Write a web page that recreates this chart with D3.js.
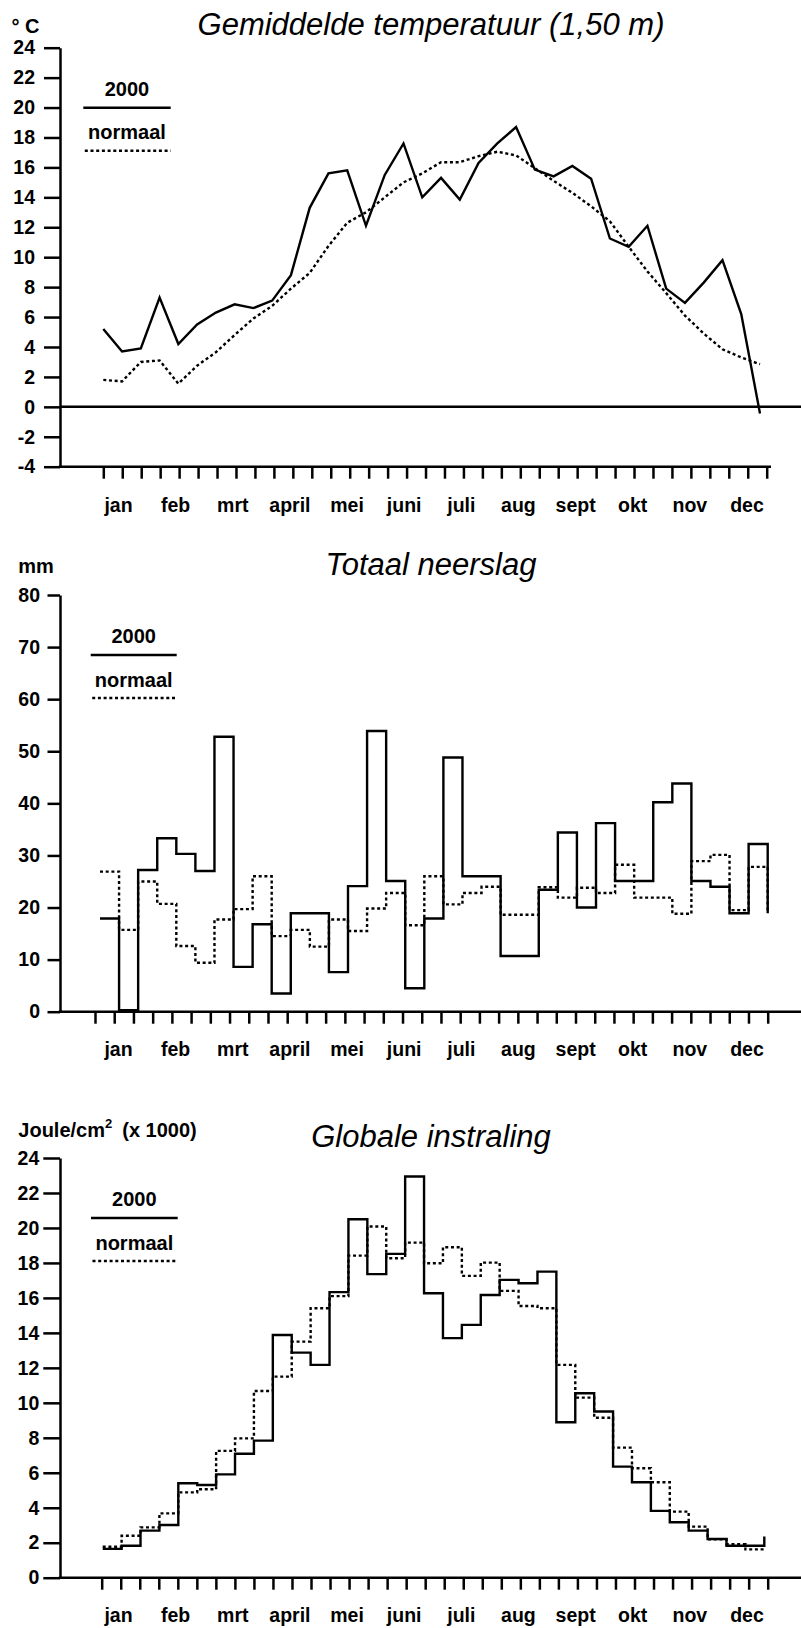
<!DOCTYPE html>
<html>
<head>
<meta charset="utf-8">
<script src="https://cdn.jsdelivr.net/npm/d3@7"></script>
<style>
  body { margin: 0; background: #fff; }
  svg { display: block; font-family: "Liberation Sans", Arial, sans-serif; }
</style>
</head>
<body>
<script>
// month labels (x axis)
const months = ["jan", "feb", "mrt", "april", "mei", "juni", "juli", "aug", "sept", "okt", "nov", "dec"];

// temperature per decade (°C)
const temp2000 = [5.2, 3.7, 3.9, 7.3, 4.2, 5.5, 6.3, 6.85, 6.6, 7.1, 8.8, 13.3, 15.6, 15.8, 12.1, 15.5, 17.6, 14.0,
  15.3, 13.85, 16.3, 17.6, 18.7, 15.85, 15.4, 16.1, 15.25, 11.25, 10.7, 12.1, 7.9, 6.95, 8.3, 9.8, 6.2, -0.45];
const tempNormal = [1.8, 1.7, 3.0, 3.1, 1.55, 2.75, 3.65, 4.8, 5.9, 6.75, 7.9, 8.95, 10.75, 12.3, 13.0, 14.0, 15.0, 15.6,
  16.35, 16.35, 16.75, 17.05, 16.8, 15.95, 15.1, 14.3, 13.4, 12.4, 10.7, 9.05, 7.6, 6.1, 4.9, 3.85, 3.3, 2.85];

// precipitation per decade (mm)
const rain2000 = [17.9, 0.3, 27.2, 33.3, 30.3, 27.0, 52.8, 8.6, 16.8, 3.5, 18.9, 18.9, 7.6, 24.1, 53.9, 25.1, 4.5, 17.9,
  48.8, 26.0, 26.0, 10.7, 10.7, 23.4, 34.4, 20.0, 36.2, 25.1, 25.1, 40.2, 43.8, 25.1, 24.0, 18.9, 32.2, 18.9];
const rainNormal = [26.9, 15.7, 25.0, 20.7, 12.6, 9.4, 17.7, 19.7, 26.0, 14.5, 15.7, 12.5, 17.7, 15.5, 19.8, 22.8, 16.6, 26.0,
  20.6, 22.8, 24.0, 18.6, 18.6, 23.9, 21.9, 23.8, 22.8, 28.2, 21.9, 21.9, 18.8, 28.9, 30.1, 19.5, 27.8, 19.0];

// global radiation per decade (J/cm2 x 1000)
const rad2000 = [1.65, 1.83, 2.69, 3.01, 5.4, 5.3, 5.91, 7.09, 7.84, 13.88, 12.87, 12.17, 16.33, 20.5, 17.36, 18.52, 22.94, 16.27,
  13.7, 14.46, 16.17, 17.03, 16.84, 17.5, 8.89, 10.55, 9.5, 6.35, 5.46, 3.82, 3.17, 2.69, 2.21, 1.83, 1.83, 2.35];
const radNormal = [1.77, 2.4, 2.88, 3.68, 4.88, 5.06, 7.25, 7.97, 10.68, 11.5, 13.5, 15.41, 16.1, 18.42, 20.08, 18.27, 19.16, 17.98,
  18.9, 17.26, 18.02, 16.4, 15.54, 15.41, 12.17, 10.3, 9.15, 7.44, 6.26, 5.46, 3.78, 2.92, 2.2, 1.91, 1.62, 1.62];

// y tick values
const tempTicks = d3.range(-4, 25, 2);
const rainTicks = d3.range(0, 81, 10);
const radTicks = d3.range(0, 25, 2);

const W = 801, H = 1628;
const axisX = 60;

const svg = d3.select("body").append("svg")
  .attr("width", W)
  .attr("height", H);

function drawPanel(o) {
  const g = svg.append("g");
  const y = d3.scaleLinear().domain(o.yDomain).range(o.yRange);
  const xp = d3.scaleLinear().domain([0, o.data2000.length - 1]).range(o.ptsRange);
  const xt = d3.scaleLinear().domain([0, o.data2000.length - 1]).range(o.tickRange);
  const xm = d3.scalePoint().domain(months).range([118.5, 747]);
  const base = y(o.yDomain[0]);
  const top = y(o.yDomain[1]);

  // y axis (plain hyphen for negatives, like the original)
  const ya = g.append("g")
    .attr("transform", `translate(${axisX},0)`)
    .call(d3.axisLeft(y).tickValues(o.yTicks).tickFormat(d => String(d))
      .tickSize(o.tickLen).tickPadding(o.pad).tickSizeOuter(0));
  ya.select(".domain").attr("stroke-width", 2.5);
  ya.selectAll(".tick line").attr("stroke-width", 2.5);
  ya.selectAll(".tick text")
    .attr("font-size", 19.5)
    .attr("font-weight", "bold")
    .attr("font-family", "Liberation Sans, Arial, sans-serif");

  // x axis line
  g.append("line")
    .attr("x1", axisX - 1.25).attr("x2", o.xEnd)
    .attr("y1", base).attr("y2", base)
    .attr("stroke", "#000").attr("stroke-width", 2.5);

  // decade ticks below the axis
  const xa = g.append("g")
    .attr("transform", `translate(0,${base})`)
    .call(d3.axisBottom(xt).tickValues(d3.range(o.data2000.length)).tickSize(12).tickFormat(""));
  xa.select(".domain").remove();
  xa.selectAll(".tick line").attr("stroke-width", 2.5);

  // month labels
  g.selectAll(".month")
    .data(months)
    .enter().append("text")
    .attr("class", "month")
    .attr("x", d => xm(d))
    .attr("y", o.monthY)
    .attr("text-anchor", "middle")
    .attr("font-size", 19.5)
    .attr("font-weight", "bold")
    .text(d => d);

  // zero line
  if (o.zeroLine) {
    g.append("line")
      .attr("x1", axisX).attr("x2", W)
      .attr("y1", y(0)).attr("y2", y(0))
      .attr("stroke", "#000").attr("stroke-width", 2.5);
  }

  const line = d3.line()
    .x((d, i) => xp(i))
    .y(d => y(d))
    .curve(o.curve);

  g.append("path")
    .datum(o.dataNormal)
    .attr("d", line)
    .attr("fill", "none")
    .attr("stroke", "#000")
    .attr("stroke-width", 2.4)
    .attr("stroke-dasharray", "3,2.7");

  g.append("path")
    .datum(o.data2000)
    .attr("d", line)
    .attr("fill", "none")
    .attr("stroke", "#000")
    .attr("stroke-width", 2.4)
    .attr("stroke-linejoin", "miter");

  // legend
  const lg = g.append("g");
  const lc = (o.legendX[0] + o.legendX[1]) / 2;
  lg.append("text")
    .attr("x", lc).attr("y", top + 48)
    .attr("text-anchor", "middle")
    .attr("font-size", 20).attr("font-weight", "bold")
    .text("2000");
  lg.append("line")
    .attr("x1", o.legendX[0]).attr("x2", o.legendX[1])
    .attr("y1", top + 60).attr("y2", top + 60)
    .attr("stroke", "#000").attr("stroke-width", 2.4);
  lg.append("text")
    .attr("x", lc).attr("y", top + 91.5)
    .attr("text-anchor", "middle")
    .attr("font-size", 20).attr("font-weight", "bold")
    .text("normaal");
  lg.append("line")
    .attr("x1", o.legendX[0] + 1.5).attr("x2", o.legendX[1])
    .attr("y1", top + 103).attr("y2", top + 103)
    .attr("stroke", "#000").attr("stroke-width", 2.4)
    .attr("stroke-dasharray", "3,2.7");

  // title
  g.append("text")
    .attr("x", 431).attr("y", o.titleY)
    .attr("text-anchor", "middle")
    .attr("font-size", 31)
    .attr("font-style", "italic")
    .text(o.title);

  // unit label
  const u = g.append("text")
    .attr("x", o.unitX).attr("y", o.unitY)
    .attr("font-size", 20).attr("font-weight", "bold");
  o.unit(u);
}

drawPanel({
  title: "Gemiddelde temperatuur (1,50 m)",
  titleY: 35,
  unitX: 11.5, unitY: 33.3,
  unit: t => t.text("° C"),
  yDomain: [-4, 24], yRange: [466.7, 47.7], yTicks: tempTicks,
  tickLen: 16, pad: 9,
  ptsRange: [103.3, 760], tickRange: [103.3, 766.7],
  xEnd: 771, monthY: 511.7,
  zeroLine: true,
  curve: d3.curveLinear,
  data2000: temp2000, dataNormal: tempNormal,
  legendX: [83.3, 170.7]
});

drawPanel({
  title: "Totaal neerslag",
  titleY: 575,
  unitX: 18.3, unitY: 573.3,
  unit: t => t.text("mm"),
  yDomain: [0, 80], yRange: [1011.7, 595], yTicks: rainTicks,
  tickLen: 12.5, pad: 7.5,
  ptsRange: [100, 767.7], tickRange: [95, 767.7],
  xEnd: W, monthY: 1056,
  zeroLine: false,
  curve: d3.curveStepAfter,
  data2000: rain2000, dataNormal: rainNormal,
  legendX: [90.7, 176.7]
});

drawPanel({
  title: "Globale instraling",
  titleY: 1146.5,
  unitX: 18.3, unitY: 1136.7,
  unit: t => {
    t.append("tspan").text("Joule/cm");
    t.append("tspan").attr("font-size", 13).attr("dy", -9).text("2");
    t.append("tspan").attr("dy", 9).attr("dx", 10).text("(x 1000)");
  },
  yDomain: [0, 24], yRange: [1577.7, 1158], yTicks: radTicks,
  tickLen: 16.7, pad: 4,
  ptsRange: [102.7, 764.3], tickRange: [101.7, 767.7],
  xEnd: W, monthY: 1621.7,
  zeroLine: false,
  curve: d3.curveStepAfter,
  data2000: rad2000, dataNormal: radNormal,
  legendX: [91, 177.7]
});
</script>
</body>
</html>
